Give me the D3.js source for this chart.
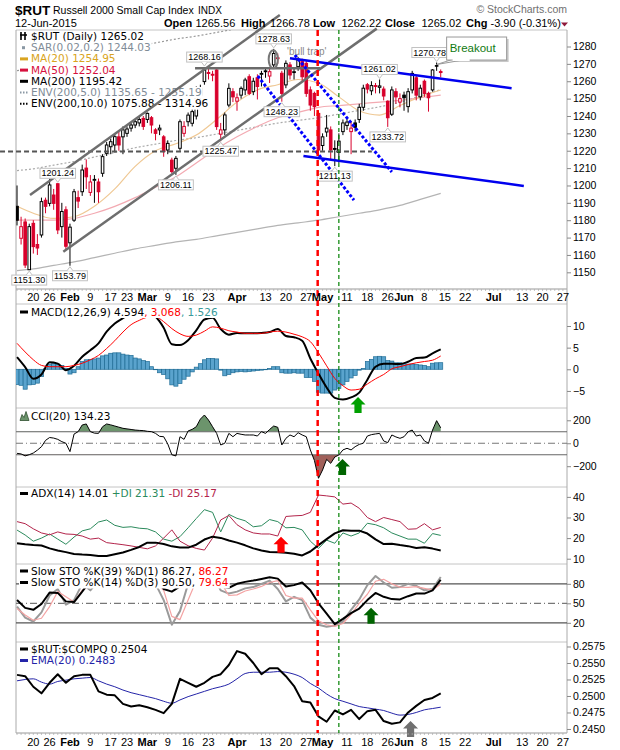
<!DOCTYPE html>
<meta charset="utf-8">
<html>
<head>
    <script src="https://d3js.org/d3.v7.min.js"></script>
    <style>
        body { margin: 0; background: #fff; }
    </style>
</head>
<body>
<script>
// ---------- values ----------
var holidays = ["2015-01-19", "2015-02-16", "2015-04-03", "2015-05-25", "2015-07-03"];
var prevClose = 1175;

// daily candles, 13-Jan-2015 .. 12-Jun-2015
var openP = [1188,1169.6,1179,1151.5,1178.2,1166,1171.5,1191.5,1189.7,1194.5,
    1201,1176.3,1186,1167,1180,1193,1196.4,1210,1196,1203,
    1202,1207,1218.5,1222.3,1223.3,1228,1228,1230,1233,1234.8,
    1236,1238.6,1238,1239,1232,1232,1228,1220.4,1214.6,1209.9,
    1221.4,1230,1236.7,1235.8,1240,1252,1259.8,1265,1264,1266.5,
    1229.5,1232,1246.3,1254,1248.5,1252,1255,1262.6,1254,1262,
    1264,1265.5,1263,1269.4,1273.5,1264.6,1257.9,1269.4,1265,1268.4,
    1271.3,1270.3,1255,1253,1241.5,1223,1230.8,1232,1221.3,1219,
    1231,1234.5,1231,1236,1238,1245,1258,1254.5,1257.5,1256.5,
    1255.5,1248.5,1241,1254,1248,1252,1245.4,1255,1262,1251,
    1260,1253,1255,1269,1265.56];
var highP = [1200,1182,1181,1178,1180,1172,1193,1193,1204,1198,
    1201.24,1190,1188,1178,1198,1197,1212,1215,1206,1206,
    1204,1218,1225,1227,1230,1231,1234,1234,1236,1238,
    1240,1240,1242,1240,1233,1235,1229,1226,1216,1217,
    1238,1237,1242,1244,1257,1258,1268.16,1267,1266,1267,
    1236,1242,1258.8,1256,1253,1257,1262,1264,1262,1264,
    1266,1268,1268,1278.63,1276,1266,1272,1271,1268,1274,
    1273,1272,1257,1254,1243,1230,1240.6,1234,1226,1230,
    1238,1239,1237,1238,1247,1258,1259,1260,1259,1261.02,
    1257,1249,1257,1256,1253,1254,1256,1266,1263,1258,
    1261,1254,1267,1270.78,1266.78];
var lowP = [1177,1166,1152.5,1151.3,1160.8,1160,1170,1184,1188,1186,
    1172,1170,1163,1153.79,1179,1187,1194,1198,1194,1190,
    1190,1205,1217,1218,1219,1220,1218,1228,1231,1233,
    1234,1232,1236,1230,1226,1229,1216.5,1218,1207,1206.11,
    1220,1228,1234,1234,1238,1250,1258,1261,1260,1232,
    1225.47,1229,1245,1248,1243,1250,1252,1252,1252,1249.5,
    1257,1262,1259,1268,1270,1248.23,1256,1261,1261,1266,
    1260,1251,1243,1240,1217,1220,1228,1215,1211.13,1213,
    1229,1232,1218,1231,1236,1243,1253,1252,1253,1253,
    1249,1233.72,1240,1247,1245,1243,1242,1253,1249,1249,
    1251,1242.5,1254,1266,1262.22];
var closeP = [1180,1176.3,1154.2,1176.3,1164.8,1164,1190.7,1188,1200.3,1189.7,
    1174.4,1185,1165,1176,1196.4,1191,1208.9,1205,1202,1203.5,
    1196.4,1216.6,1223.3,1225.2,1228.1,1223.3,1232,1232.5,1234.8,1236.7,
    1238,1234,1241.5,1234.8,1230,1233,1219.5,1224.2,1208,1215.6,
    1236.7,1234,1240.5,1242.5,1255,1256,1266.5,1264.5,1263.5,1233.9,
    1232,1240.6,1255.9,1251,1250.5,1255.9,1260.7,1253,1260,1257,
    1264.5,1266,1265.5,1276,1273,1253,1270.3,1263.6,1265.5,1272.2,
    1262.6,1253,1246.3,1245.4,1220.4,1228,1233,1220.4,1220.8,1225.5,
    1236,1236.5,1233,1233.5,1245,1256,1255.5,1257.5,1257,1257.3,
    1251.5,1239,1255,1251,1250,1250.5,1254,1264.5,1252,1256,
    1253,1250.5,1266.5,1268.92,1265.02];

// overlays, one value per week
var ma20 = [1188,1184,1181,1182,1188,1198,1211,1220,1224,1229,1238,1248,1255,1258,1261,1259,1251,1243,1240.5,1246,1251,1254.95];
var ma50 = [1180,1180,1180,1181,1184,1188,1193,1199,1205,1213,1221,1228,1234,1239,1242,1245,1246,1247,1248,1249,1250.5,1252.04];
var ma200 = [1151,1152,1154,1156,1158.5,1161,1163.5,1165.5,1167.5,1169,1171,1173,1175,1177,1178.5,1180,1182,1184,1186,1188.5,1192,1195.42];
var env5Up = [1208.6,1209.6,1211.7,1213.8,1216.4,1219,1221.7,1223.8,1225.9,1227.5,1229.6,1231.7,1233.8,1235.9,1237.4,1239,1241.1,1243.2,1245.3,1247.9,1251.6,1255.19];
var env10Up = [1266.1,1267.2,1269.4,1271.6,1274.4,1277.1,1279.9,1282.1,1284.3,1286,1288.1,1290.3,1292.5,1294.7,1296.4,1298,1300.2,1302.4,1304.6,1307.4,1311.2,1314.96];

// daily indicator values
var macdHist = [-3.5,-3.7,-4.6,-3.6,-3.5,-3.2,-1.7,0.1,1.2,1.3,
    1.1,0.9,0.2,-1.1,-0.8,0.6,1.8,2.2,2.3,2.4,
    2.6,3.1,3.3,3.7,3.8,3.8,3.5,3.3,3.2,2.6,
    2.4,2.0,1.8,0.6,-0.1,-0.8,-1.2,-2.2,-3.6,-3.9,
    -3.3,-2.3,-1.6,-0.6,0.5,1.3,2.2,2.5,2.5,2.4,
    -0.2,-1.5,-1.2,-0.8,-0.6,-0.5,-0.6,-0.5,-0.4,-0.3,
    -0.2,-0.1,0.2,0.6,0.6,-0.8,-0.9,-0.9,-0.8,-0.9,
    -0.9,-1.9,-1.9,-2.8,-5.3,-5.5,-5.5,-5.5,-4.8,-4.4,
    -3.6,-2.8,-2.0,-1.4,-0.2,0.2,1.8,2.3,2.9,3.0,
    2.9,2.0,1.9,1.5,1.5,1.3,1.2,1.2,1.1,1.0,
    0.9,0.6,1.4,1.5,1.526];
var cci = [-88,-93,-110,-100,-85,-60,-30,25,50,45,
    34,14,0,-73,80,101,159,168,101,88,
    86,144,168,160,150,140,130,125,120,115,
    112,110,104,101,86,60,57,-6,-100,-111,
    57,34,107,121,144,210,246,202,144,86,
    -15,0,86,57,86,78,72,72,72,63,
    101,86,120,150,139,-15,43,72,57,92,
    72,57,-58,-150,-305,-233,-140,-175,-120,-102,
    -58,-44,-58,-30,-10,0,63,75,81,86,
    20,5,72,55,43,57,100,115,63,72,
    20,0,115,197,134.23];

// indicator values, every second day
var macdLine = [2.8,0.5,-2.2,-1.2,1.6,1.3,-0.2,0.8,2.9,4.4,6.0,8.7,10.6,11.8,13.0,13.6,13.4,12.2,9.6,5.8,
    5.6,6.7,9.0,11.5,11.9,9.3,8.0,8.4,8.3,8.3,8.4,8.6,9.3,7.7,7.4,6.6,2.5,-1.0,-4.2,-6.6,
    -7.0,-6.5,-5.4,-2.4,0.6,1.3,1.3,1.2,1.75,2.6,2.7,3.7,4.594];
var macdSignal = [6.0,4.0,2.2,0.9,0.6,0.6,0.6,0.9,1.4,2.2,3.2,4.8,6.6,8.6,10.3,11.3,12.0,12.1,11.0,9.4,
    8.2,7.6,7.9,8.8,9.8,9.5,8.9,8.6,8.3,8.3,8.3,8.6,8.8,8.6,8.1,7.5,6.4,3.8,0.8,-2.1,
    -3.8,-4.8,-4.6,-3.4,-2.2,-1.2,0.1,0.6,1.1,1.5,1.8,2.1,3.068];
var adx = [17.5,17,16.6,16.4,15,14,13.2,12.3,12,11.8,11.3,11.3,12.2,13,14.3,15.7,17.8,17.8,17.1,16,
    15.4,15.4,16.8,19.3,20.7,20.1,18.8,17.8,16.5,15,14,13.3,13.1,12.9,12.4,11.6,13.5,16.6,19.5,22.3,
    23.8,23.6,23.6,22.2,19.4,17.1,17.3,16.6,16.1,15.2,15.6,14.9,14.01];
var plusDI = [23.9,21.5,18.5,20,22,19.5,17,20.5,23.5,24.5,27.8,28.8,26.2,25.2,25.5,24.8,24.5,23,19.5,18.5,
    20.7,25,29.5,33.8,32.5,23,31.5,29.6,28.4,25.5,26,29,28,25,25.2,24,18.5,15,19,17.5,
    22.5,21,22.5,27.2,26.5,25,22.5,21,19.5,19.5,17.5,22.2,21.31];
var minusDI = [28,27,24.5,22.5,21.6,23,22,21.8,21,19.5,20,17.8,17.3,16.8,16.2,15.5,14.8,16.2,20,24,
    18.5,16.3,15,14.2,20,28.8,31,26.5,24,22.5,22,22,21,30.5,30.8,31,32.5,40.9,40.5,40,
    36.5,37,34.5,30,28,30,29,28,24.3,24.5,27,24,25.17];
var sto39 = [55,43,40,49,66.5,66,53,52,68,85,90,95,97,96,97,96,95,90,72,68,
    76,85,93,97,92,76,74,80,83,85,87.5,90,88,76,78,82,70,50,34,18,
    26,35,42,55,66,60,56.5,56,61,65,65,70,86.27];
var sto14K = [44.8,28,22,36,62,72,48,55,80,70,85,95,93,90,95,92,85,80,55,17,
    38,80,95,97,93,70,65,68,73,75,80,85,72,53,60,55,28,17,14,16,
    22,40,56,78,92,82,74,75,80,77,70,72,90.5];
var sto14D = [42,32,24,27,45,68,60,52,70,78,80,90,93,91,92,93,88,82,70,30,
    25,55,85,95,94,82,62,63,69,72,76,82,85,62,58,58,40,23,17,14.5,
    19,33,50,64,84,87,80,75,74.5,75.6,73,70.5,79.64];
var ratio = [.2532,.2530,.2514,.2504,.2520,.2533,.2520,.2530,.2532,.2532,.2507,.2502,.2501,.2488,.2484,.2486,.2483,.2479,.2474,.2488,
    .2526,.2520,.2514,.2520,.2529,.2533,.2547,.2568,.2564,.2550,.2533,.2542,.2542,.2530,.2515,.2492,.2490,.2469,.2461,.2478,
    .2472,.2479,.2465,.2477,.2479,.2462,.2458,.2460,.2475,.2485,.2494,.2497,.2504];
var ratioEma = [.2523,.2525,.2526,.2521,.2518,.2522,.2524,.2526,.2527,.2528,.2523,.2518,.2514,.2509,.2505,.2502,.2499,.2496,.2492,.2489,
    .2494,.2499,.2503,.2507,.2511,.2514,.2518,.2526,.2534,.2536,.2536,.2536,.2537,.2536,.2533,.2528,.2519,.2512,.2503,.2496,
    .2492,.2488,.2484,.2482,.2480,.2478,.2474,.2471,.2472,.2475,.2479,.2481,.2483];

// x axis labels
var tickDays = ["2015-01-20","2015-01-26","2015-02-02","2015-02-09","2015-02-17","2015-02-23","2015-03-02","2015-03-09",
    "2015-03-16","2015-03-23","2015-04-01","2015-04-13","2015-04-20","2015-04-27","2015-05-01","2015-05-11","2015-05-18",
    "2015-05-26","2015-06-01","2015-06-08","2015-06-15","2015-06-22","2015-07-01","2015-07-13","2015-07-20","2015-07-27"];
var tickText = ["20","26","Feb","9","17","23","Mar","9","16","23","Apr","13","20","27","May","11","18","26","Jun","8","15","22","Jul","13","20","27"];

// candles carrying a price flag
var highLabels = [10, 46, 63, 89, 103];
var lowLabels = [3, 13, 39, 50, 65, 78, 91];

// ---------- setup ----------
var fmtDay = d3.timeFormat("%Y-%m-%d");
var days = d3.timeDay.range(new Date(2015, 0, 13), new Date(2015, 7, 1))
    .filter(function(d) { return d.getDay() !== 0 && d.getDay() !== 6 && holidays.indexOf(fmtDay(d)) < 0; });
var dayIndex = new Map(days.map(function(d, i) { return [fmtDay(d), i]; }));
var idx2 = d3.range(0, closeP.length, 2);
var idxWeek = [0].concat(d3.range(4, closeP.length, 5));

var width = 620, height = 750, left = 16, right = 567;
var SANS = "'Liberation Sans', Arial, sans-serif";
var VERD = "'DejaVu Sans', Verdana, sans-serif";
var RED = "#d8002b";

var svg = d3.select("body").append("svg")
    .attr("width", width)
    .attr("height", height)
    .style("font-family", VERD);
var defs = svg.append("defs");
var frame = svg.append("g");

var x = d3.scaleLinear().domain([-0.25, 135]).range([left, right]);
var step = x(1) - x(0);

function panel(name, top, bottom, domain) {
    var p = {top: top, bottom: bottom};
    p.y = d3.scaleLinear().domain(domain).range([bottom, top]);
    defs.append("clipPath").attr("id", "clip-" + name).append("rect")
        .attr("x", left).attr("y", top).attr("width", right - left).attr("height", bottom - top);
    p.g = svg.append("g").attr("clip-path", "url(#clip-" + name + ")");
    return p;
}
var price = panel("price", 30, 289, [1140.4, 1289.5]);
var macdP = panel("macd", 304, 408, [-8.94, 15.08]);
var cciP = panel("cci", 408, 487, [-381, 307]);
var adxP = panel("adx", 487, 564, [7.43, 44.8]);
var stoP = panel("sto", 564, 642, [-9.5, 110.5]);
var ratP = panel("ratio", 642, 733, [0.24439, 0.25818]);

// panel frames
[30, 304, 408, 487, 564, 642].forEach(function(yy) {
    frame.append("line").attr("x1", left).attr("x2", right).attr("y1", yy).attr("y2", yy).attr("stroke", "#c4c4c4");
});
[289, 733].forEach(function(yy) {
    frame.append("line").attr("x1", left).attr("x2", right).attr("y1", yy).attr("y2", yy).attr("stroke", "#999");
});
[left, right].forEach(function(xx) {
    frame.append("line").attr("x1", xx).attr("x2", xx).attr("y1", 30).attr("y2", 733).attr("stroke", "#aaa");
});

function drawLine(p, idx, vals, color, w, dash, curve) {
    p.g.append("path")
        .datum(idx.map(function(k, j) { return [k, vals[j]]; }))
        .attr("fill", "none")
        .attr("stroke", color)
        .attr("stroke-width", w)
        .attr("stroke-dasharray", dash || null)
        .attr("stroke-linejoin", "round")
        .attr("d", d3.line()
            .x(function(d) { return x(d[0]); })
            .y(function(d) { return p.y(d[1]); })
            .curve(curve || d3.curveLinear));
}

function hline(p, v, color, dash) {
    p.g.append("line")
        .attr("x1", left).attr("x2", right)
        .attr("y1", p.y(v)).attr("y2", p.y(v))
        .attr("stroke", color).attr("stroke-width", 1.2)
        .attr("stroke-dasharray", dash || null);
}

function rightAxis(p, ticks, fmt) {
    var g = svg.append("g").attr("transform", "translate(" + right + ",0)")
        .call(d3.axisRight(p.y).tickValues(ticks).tickSize(4).tickFormat(fmt));
    g.select(".domain").remove();
    g.selectAll("line").attr("stroke", "#888");
    g.selectAll("text").attr("font-family", SANS).attr("font-size", 10.5).attr("fill", "#000").attr("x", 6);
}

// ---------- price panel ----------
var smooth = d3.curveMonotoneX;
drawLine(price, idxWeek, env10Up, "#999", 1.2, "2,2", smooth);
drawLine(price, idxWeek, env5Up, "#aaa", 1.2, "2,2", smooth);
drawLine(price, idxWeek, ma200, "#b4b4b4", 1.2, null, smooth);
drawLine(price, idxWeek, ma50, "#f3aab2", 1.2, null, smooth);
drawLine(price, idxWeek, ma20, "#efc894", 1.2, null, smooth);

price.g.append("g").selectAll("g")
    .data(d3.range(closeP.length))
    .join("g")
    .each(function(k) {
        var prev = k === 0 ? prevClose : closeP[k - 1];
        var col = closeP[k] < prev ? RED : "#000";
        var filled = closeP[k] < openP[k];
        var cx = x(k);
        var g = d3.select(this);
        g.append("line")
            .attr("x1", cx).attr("x2", cx)
            .attr("y1", price.y(highP[k])).attr("y2", price.y(lowP[k]))
            .attr("stroke", col).attr("stroke-width", 1);
        var top = price.y(Math.max(openP[k], closeP[k]));
        var bot = price.y(Math.min(openP[k], closeP[k]));
        g.append("rect")
            .attr("x", cx - 1.3).attr("y", top)
            .attr("width", 2.6).attr("height", Math.max(bot - top, 0.6))
            .attr("fill", filled ? col : "#fff")
            .attr("stroke", col).attr("stroke-width", 1);
    });

// ---------- MACD ----------
macdP.g.append("g").selectAll("rect")
    .data(macdHist)
    .join("rect")
        .attr("x", function(d, k) { return x(k) - step / 2; })
        .attr("width", step)
        .attr("y", function(d) { return Math.min(macdP.y(d), macdP.y(0)); })
        .attr("height", function(d) { return Math.abs(macdP.y(d) - macdP.y(0)); })
        .attr("fill", "#5aa3cd")
        .attr("stroke", "#1f6c95")
        .attr("stroke-width", 0.7);
drawLine(macdP, idx2, macdLine, "#000", 2, null, smooth);
drawLine(macdP, idx2, macdSignal, "#ff0000", 1, null, smooth);

// ---------- CCI ----------
defs.append("clipPath").attr("id", "cci-up").append("rect")
    .attr("x", left).attr("y", cciP.top).attr("width", right - left).attr("height", cciP.y(100) - cciP.top);
defs.append("clipPath").attr("id", "cci-dn").append("rect")
    .attr("x", left).attr("y", cciP.y(-100)).attr("width", right - left).attr("height", cciP.bottom - cciP.y(-100));
var cciPts = cci.map(function(v, k) { return [k, v]; });
cciP.g.append("path").datum(cciPts)
    .attr("clip-path", "url(#cci-up)")
    .attr("fill", "#6c946c")
    .attr("d", d3.area().x(function(d) { return x(d[0]); }).y0(cciP.y(100)).y1(function(d) { return cciP.y(d[1]); }));
cciP.g.append("path").datum(cciPts)
    .attr("clip-path", "url(#cci-dn)")
    .attr("fill", "#a0605a")
    .attr("d", d3.area().x(function(d) { return x(d[0]); }).y0(cciP.y(-100)).y1(function(d) { return cciP.y(d[1]); }));
hline(cciP, 100, "#666");
hline(cciP, -100, "#666");
hline(cciP, 0, "#777", "7,3,1,3");
drawLine(cciP, d3.range(cci.length), cci, "#000", 1);

// ---------- ADX ----------
drawLine(adxP, idx2, plusDI, "#2b8a5c", 1);
drawLine(adxP, idx2, minusDI, "#b3244b", 1);
drawLine(adxP, idx2, adx, "#000", 2);

// ---------- Slow STO ----------
hline(stoP, 80, "#555");
hline(stoP, 20, "#555");
hline(stoP, 50, "#777", "7,3,1,3");
drawLine(stoP, idx2, sto14K, "#9a9a9a", 2);
drawLine(stoP, idx2, sto14D, "#f4a3a3", 1.2);
drawLine(stoP, idx2, sto39, "#000", 2);

// ---------- RUT:COMPQ ----------
drawLine(ratP, idx2, ratioEma, "#2424a8", 1, null, smooth);
drawLine(ratP, idx2, ratio, "#000", 2);

// ---------- legends ----------
function legendRow(x0, y0, icon, color, parts) {
    var row = svg.append("g");
    var bg = row.append("rect").attr("fill", "#fff");
    if (icon === "line") {
        row.append("rect").attr("x", x0).attr("y", y0 - 5).attr("width", 8).attr("height", 3).attr("fill", color);
    } else if (icon === "dots") {
        row.append("line").attr("x1", x0).attr("x2", x0 + 8).attr("y1", y0 - 3.5).attr("y2", y0 - 3.5)
            .attr("stroke", color).attr("stroke-width", 2).attr("stroke-dasharray", "1.5,1.5");
    } else if (icon === "square") {
        row.append("rect").attr("x", x0 + 2).attr("y", y0 - 5).attr("width", 3).attr("height", 3).attr("fill", color);
    } else if (icon === "area") {
        row.append("path").attr("d", "M" + x0 + "," + (y0 + 1) + "l2,-6l2,3l2,-6l3,9z")
            .attr("fill", "#6c946c").attr("stroke", "#2f4f2f").attr("stroke-width", 0.8);
    } else if (icon === "candle") {
        row.append("path").attr("d", "M" + (x0 + 1) + "," + (y0 - 8) + "v8M" + (x0 + 5) + "," + (y0 - 8) + "v8M" + x0 + "," + (y0 - 5) + "h7")
            .attr("stroke", color).attr("stroke-width", 1.6).attr("fill", "none");
    }
    var t = row.append("text").attr("x", x0 + 11).attr("y", y0).attr("font-size", 10.5).attr("font-family", VERD);
    parts.forEach(function(p) { t.append("tspan").attr("fill", p[1]).text(p[0]); });
    var bb = t.node().getBBox();
    bg.attr("x", x0 - 1).attr("y", y0 - 9).attr("width", bb.x + bb.width - x0 + 2).attr("height", 11.5);
}

legendRow(20, 40, "candle", "#000", [["$RUT (Daily) 1265.02", "#000"]]);
legendRow(20, 51.2, "square", "#8a98a4", [["SAR(0.02,0.2) 1244.03", "#7f8c97"]]);
legendRow(20, 62.4, "line", "#d9a420", [["MA(20) 1254.95", "#d9a420"]]);
legendRow(20, 73.6, "line", "#d6103e", [["MA(50) 1252.04", "#d6103e"]]);
legendRow(20, 84.8, "line", "#000", [["MA(200) 1195.42", "#000"]]);
legendRow(20, 96, "dots", "#8a98a4", [["ENV(200,5.0) 1135.65 - 1255.19", "#7f8c97"]]);
legendRow(20, 107.2, "dots", "#000", [["ENV(200,10.0) 1075.88 - 1314.96", "#000"]]);

legendRow(20, 315.5, "line", "#000", [["MACD(12,26,9) 4.594", "#000"], [", 3.068", "#ff0000"], [", 1.526", "#3a9a9a"]]);
legendRow(20, 419.5, "area", "#000", [["CCI(20) 134.23", "#000"]]);
legendRow(20, 497, "line", "#000", [["ADX(14) 14.01 ", "#000"], ["+DI 21.31 ", "#2b8a5c"], ["-DI 25.17", "#b3244b"]]);
legendRow(20, 574.5, "line", "#000", [["Slow STO %K(39) %D(1) 86.27, ", "#000"], ["86.27", "#ff0000"]]);
legendRow(20, 586, "line", "#000", [["Slow STO %K(14) %D(3) 90.50, ", "#000"], ["79.64", "#ff0000"]]);
legendRow(20, 652.5, "line", "#000", [["$RUT:$COMPQ 0.2504", "#000"]]);
legendRow(20, 664, "line", "#2424a8", [["EMA(20) 0.2483", "#2424a8"]]);

// ---------- chartist annotations ----------
var notes = svg.append("g");
function trend(k1, p1, k2, p2, color, w, dash) {
    notes.append("line")
        .attr("x1", x(k1)).attr("y1", price.y(p1))
        .attr("x2", x(k2)).attr("y2", price.y(p2))
        .attr("stroke", color).attr("stroke-width", w)
        .attr("stroke-dasharray", dash || null);
}
trend(-4.17, 1219.5, 87.1, 1219.5, "#555", 2, "5,3");     // support
trend(43.7, 1267.5, 74.4, 1267.5, "#6a6a6a", 2.5);         // resistance
trend(3.19, 1194.5, 64.5, 1298.1, "#6e6e6e", 2.5);         // channel top
trend(11.36, 1161.9, 88.3, 1290.3, "#6e6e6e", 2.5);        // channel bottom
trend(67, 1273.2, 121.4, 1256, "#0000ee", 2.5);
trend(70.3, 1217, 124.4, 1199.7, "#0000ee", 2.5);
trend(59.1, 1263, 82.7, 1191.6, "#0000ff", 3, "3,2");
trend(68.2, 1275.1, 92, 1207.8, "#0000ff", 3, "3,2");

notes.append("ellipse")
    .attr("cx", x(62.9)).attr("cy", price.y(1272.6))
    .attr("rx", 4.6).attr("ry", 9)
    .attr("fill", "none").attr("stroke", "#777").attr("stroke-width", 2);
notes.append("text")
    .attr("x", x(66.3)).attr("y", price.y(1275.1))
    .attr("font-family", SANS).attr("font-size", 10).attr("fill", "#888")
    .text("'bull trap'");

// price flags
function priceFlag(k, isHigh, dx) {
    var v = isHigh ? highP[k] : lowP[k];
    var cx = x(k), cy = price.y(v);
    var lx = cx + (dx || 0);
    var bh = 10, gap = 5;
    var by = isHigh ? cy - gap - bh : cy + gap;
    var g = svg.append("g");
    var box = g.append("rect");
    var tip = g.append("path");
    var t = g.append("text")
        .attr("x", lx).attr("y", by + 8)
        .attr("text-anchor", "middle")
        .attr("font-family", SANS).attr("font-size", 9)
        .text(d3.format(".2f")(v));
    var tw = t.node().getComputedTextLength();
    box.attr("x", lx - tw / 2 - 1.5).attr("y", by).attr("width", tw + 3).attr("height", bh)
        .attr("fill", "#fff").attr("stroke", "#c2c2c2");
    var py = isHigh ? by + bh : by;
    var ty = isHigh ? cy - 1 : cy + 1;
    tip.attr("d", "M" + (cx - 3) + "," + py + "L" + cx + "," + ty + "L" + (cx + 3) + "," + py)
        .attr("fill", "#fff").attr("stroke", "#c2c2c2");
}
highLabels.forEach(function(k) { priceFlag(k, true, k === 103 ? -7 : 0); });
lowLabels.forEach(function(k) { priceFlag(k, false); });

// breakout callout
var tipX = x(103), tipY = price.y(highP[103]) + 2;
var bx = tipX + 10, by = tipY - 27.5, bw = 60, bh = 23;
var call = svg.append("g");
call.append("rect").attr("x", bx + 2).attr("y", by + 2).attr("width", bw).attr("height", bh).attr("fill", "#c8c8c8");
call.append("path")
    .attr("d", "M" + (bx + 7) + "," + (by + bh - 1) + "L" + tipX + "," + tipY + "L" + (bx + 22) + "," + (by + bh - 1))
    .attr("fill", "#fff").attr("stroke", "#999");
call.append("rect").attr("x", bx).attr("y", by).attr("width", bw).attr("height", bh)
    .attr("fill", "#fff").attr("stroke", "#999");
call.append("rect").attr("x", bx + 6).attr("y", by + bh - 1.5).attr("width", 17).attr("height", 2.5).attr("fill", "#fff");
call.append("text").attr("x", bx + 3).attr("y", by + 15)
    .attr("font-family", SANS).attr("font-size", 11.5).attr("fill", "#117a11")
    .text("Breakout");

// arrows
function arrow(p, k, v, color) {
    svg.append("path")
        .attr("d", "M0,0L7.5,7.5L3.6,7.5L3.6,16L-3.6,16L-3.6,7.5L-7.5,7.5Z")
        .attr("transform", "translate(" + x(k) + "," + p.y(v) + ")")
        .attr("fill", color);
}
arrow(macdP, 83.7, -6.4, "#00a000");
arrow(cciP, 79.9, -137, "#006400");
arrow(adxP, 64.8, 20.7, "#ff0000");
arrow(stoP, 86.9, 43.2, "#006400");
arrow(ratP, 96.6, 0.24621, "#707070");

// event markers through all panels
svg.append("line")
    .attr("x1", x(73.8)).attr("x2", x(73.8)).attr("y1", 30).attr("y2", 733)
    .attr("stroke", "#ff0000").attr("stroke-width", 2.5).attr("stroke-dasharray", "6,4");
svg.append("line")
    .attr("x1", x(79)).attr("x2", x(79)).attr("y1", 30).attr("y2", 733)
    .attr("stroke", "#008000").attr("stroke-width", 1.2).attr("stroke-dasharray", "4,3");

// ---------- axes ----------
rightAxis(price, d3.range(1150, 1281, 10), d3.format("d"));
rightAxis(macdP, [-5, 0, 5, 10], d3.format("d"));
rightAxis(cciP, [-200, 0, 200], d3.format("d"));
rightAxis(adxP, [10, 20, 30, 40], d3.format("d"));
rightAxis(stoP, [20, 50, 80], d3.format("d"));
rightAxis(ratP, [0.245, 0.2475, 0.25, 0.2525, 0.255, 0.2575], d3.format(".4f"));

function dayTicks(yy) {
    svg.append("g").selectAll("line")
        .data(d3.range(days.length).filter(function(k) { return x(k) < right; }))
        .join("line")
            .attr("x1", function(k) { return x(k); })
            .attr("x2", function(k) { return x(k); })
            .attr("y1", yy).attr("y2", yy + 2)
            .attr("stroke", "#aaa").attr("stroke-width", 0.7);
}
function dateLabels(yy) {
    svg.append("g").selectAll("text")
        .data(tickDays)
        .join("text")
            .attr("x", function(d) { return x(dayIndex.get(d)); })
            .attr("y", yy)
            .attr("text-anchor", "middle")
            .attr("font-family", SANS)
            .attr("font-size", 11)
            .attr("font-weight", function(d, i) { return isNaN(+tickText[i]) ? "bold" : "normal"; })
            .text(function(d, i) { return tickText[i]; });
}
dayTicks(289);
dayTicks(733);
dateLabels(301);
dateLabels(745.5);

// ---------- header ----------
var head = svg.append("g").attr("font-family", SANS).attr("fill", "#000");
head.append("text").attr("x", 15).attr("y", 14.5).attr("font-size", 13.5).attr("font-weight", "bold").text("$RUT");
head.append("text").attr("x", 53).attr("y", 14).attr("font-size", 10.5).text("Russell 2000 Small Cap Index");
head.append("text").attr("x", 198).attr("y", 14).attr("font-size", 10).text("INDX");
head.append("text").attr("x", 15).attr("y", 26.5).attr("font-size", 11).text("12-Jun-2015");
head.append("text").attr("x", 567).attr("y", 13).attr("text-anchor", "end").attr("font-size", 10.5).attr("fill", "#707070")
    .text("\u00a9 StockCharts.com");

var quote = [["Open", 164, true], ["1265.56", 195.5], ["High", 241, true], ["1266.78", 270],
    ["Low", 313, true], ["1262.22", 341.5], ["Close", 385, true], ["1265.02", 421.5],
    ["Chg", 466, true], ["-3.90 (-0.31%)", 490.5]];
quote.forEach(function(q) {
    head.append("text").attr("x", q[1]).attr("y", 26.5).attr("font-size", 11)
        .attr("font-weight", q[2] ? "bold" : "normal").text(q[0]);
});
head.append("path").attr("d", "M561,22.5h7l-3.5,4z").attr("fill", "#8e1a3c");
</script>
</body>
</html>
